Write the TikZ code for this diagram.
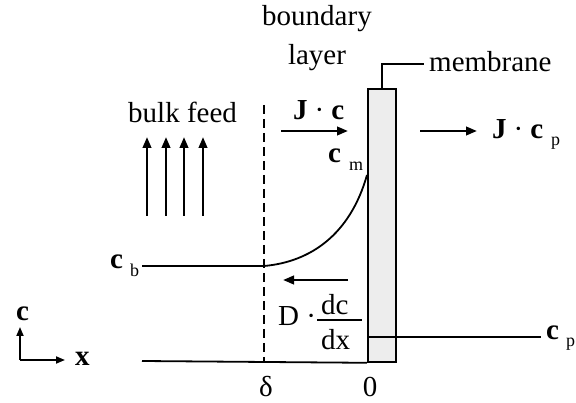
\documentclass[tikz,border=0pt]{standalone}
\usepackage{fontspec}
\setmainfont{Liberation Serif}
\usetikzlibrary{arrows.meta}
\begin{document}
\begin{tikzpicture}[x=1pt,y=-1pt,
  lbl/.style={inner sep=0pt,anchor=base west,font=\fontsize{29}{32}\selectfont},
  lblc/.style={inner sep=0pt,anchor=base,font=\fontsize{29}{32}\selectfont},
  sub/.style={inner sep=0pt,anchor=base west,font=\fontsize{18}{20}\selectfont},
  arr/.style={line width=2.4pt,-{Triangle[length=11pt,width=8.5pt]}},
  arrs/.style={line width=1.8pt,-{Triangle[length=9pt,width=7pt]}},
  ln/.style={line width=1.8pt},
  dsh/.style={line width=1.8pt,dash pattern=on 9pt off 5pt}]
\useasboundingbox (0,0) rectangle (576,403);
% membrane
\node (mem) [draw,line width=1.8pt,fill=black!7,minimum width=28pt,minimum height=273pt,inner sep=0pt,anchor=north west] at (367,88) {};
\node (memlbl) [lbl] at (429,72) {membrane};
\coordinate (lead) at (424,64);
\draw[ln] (mem.north) |- (lead);
% boundary layer
\node (bl1) [lblc] at (317,26) {boundary};
\node (bl2) [lblc] at (317,65) {layer};
% dashed boundary
\coordinate (dtop) at (264,105);
\coordinate (dbot) at (264,361);
\draw[dsh] (dtop) -- (dbot);
% baseline
\coordinate (base) at (142,361);
\draw[ln] (base) -- (mem.south west);
% c_p line
\coordinate (cpL) at (367,337);
\coordinate (cpR) at (541,337);
\draw[ln] (cpL) -- (cpR);
\node (cpc) [lbl] at (546,340) {\textbf{c}};
\node (cpp) [sub] at (566,347) {p};
% concentration profile
\coordinate (cbL) at (142,266);
\coordinate (cbX) at (264,266);
\coordinate (cmP) at (367,175);
\draw[ln] (cbL) -- (cbX) .. controls (310,262) and (350,235) .. (cmP);
\node (cbc) [lbl] at (110,269) {\textbf{c}};
\node (cbb) [sub] at (130,277) {b};
\node (cmc) [lbl] at (328,163) {\textbf{c}};
\node (cmm) [sub] at (349,171) {m};
% bulk feed
\node (bulk) [lbl] at (128,123) {bulk feed};
\foreach \i/\x in {1/147,2/166,3/184,4/203}{
  \coordinate (f\i a) at (\x,216);
  \coordinate (f\i b) at (\x,137);
  \draw[arr] (f\i a) -- (f\i b);
}
% J c
\node (jc) [lbl] at (293,120) {\textbf{J}\hspace{7pt}·\hspace{7pt}\textbf{c}};
\coordinate (jca) at (281,131);
\coordinate (jcb) at (348,131);
\draw[arr] (jca) -- (jcb);
% J c_p
\coordinate (jpa) at (420,131);
\coordinate (jpb) at (477,131);
\draw[arr] (jpa) -- (jpb);
\node (jp) [lbl] at (492,139) {\textbf{J}\hspace{7pt}·\hspace{7pt}\textbf{c}};
\node (jpp) [sub] at (551,146) {p};
% diffusion
\coordinate (da) at (348,280);
\coordinate (db) at (283,280);
\draw[arr] (da) -- (db);
\node (dD) [lbl] at (278,326) {D ·};
\node (ddc) [lbl] at (321,315) {dc};
\node (ddx) [lbl] at (321,350) {dx};
\coordinate (fr1) at (317,320);
\coordinate (fr2) at (362,320);
\draw[ln] (fr1) -- (fr2);
% axis labels
\node (delta) [lblc] at (266,396) {δ};
\node (zero) [lblc] at (370,396) {0};
% axes
\coordinate (ax) at (20,360);
\coordinate (axc) at (20,327);
\coordinate (axx) at (65,360);
\draw[arrs] (ax) -- (axc);
\draw[arrs] (ax) -- (axx);
\node (axcl) [lbl] at (16,321) {\textbf{c}};
\node (axxl) [lbl] at (75,366) {\textbf{x}};
\end{tikzpicture}
\end{document}
